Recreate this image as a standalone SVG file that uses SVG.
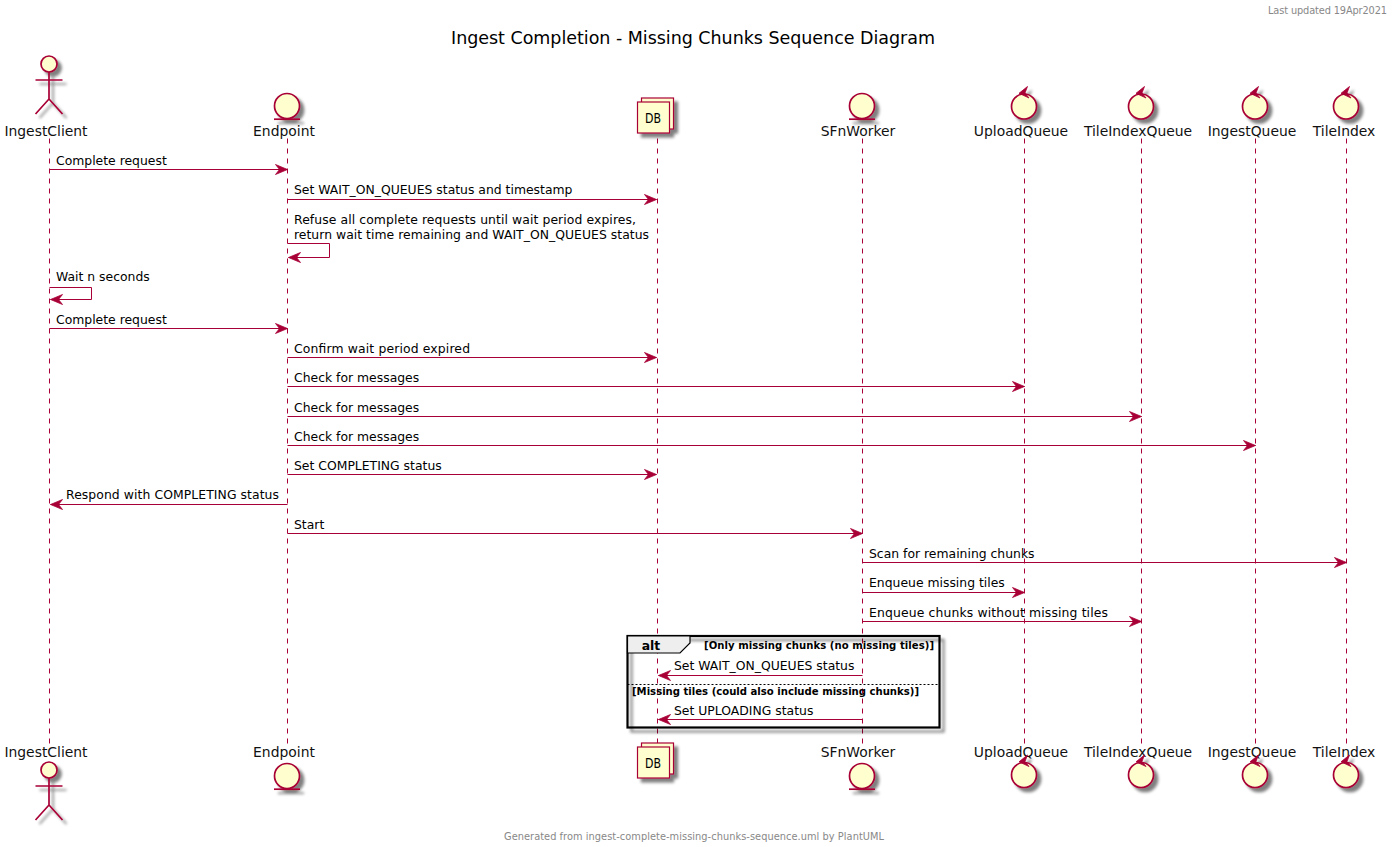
<svg xmlns="http://www.w3.org/2000/svg" width="1393" height="847" viewBox="0 0 1393 847">
<style>
text{font-family:"DejaVu Sans","Liberation Sans",sans-serif;fill:#000}
.lbl{font-size:12.4px}
.name{font-size:13.9px;text-anchor:middle;fill:#111}
.life{stroke:#A80036;stroke-width:1;stroke-dasharray:5 5;fill:none}
.msg{stroke:#A80036;stroke-width:1;fill:none}
.head{fill:#A80036;stroke:#A80036;stroke-width:.8}
.shape{fill:#FEFECE;stroke:#A80036;stroke-width:1.7}
.bar{stroke:#A80036;stroke-width:1.7;fill:none}
.note{font-size:9.8px;fill:#888}
.cond{font-size:10.1px;font-weight:bold}
</style>
<defs>
<filter id="sh" x="-30%" y="-30%" width="170%" height="170%"><feGaussianBlur in="SourceAlpha" stdDeviation="1.8"/><feOffset dx="3.5" dy="3.5"/><feComponentTransfer><feFuncA type="linear" slope="0.5"/></feComponentTransfer><feMerge><feMergeNode/><feMergeNode in="SourceGraphic"/></feMerge></filter>
<marker id="arr" markerUnits="userSpaceOnUse" markerWidth="14" markerHeight="12" refX="12" refY="5" orient="auto-start-reverse" overflow="visible"><path class="head" d="M0 0L12 5L0 10L4 5Z"/></marker>
<g id="actor"><g filter="url(#sh)"><circle class="shape" cx="0" cy="0" r="8"/><path class="bar" d="M0 8V35M-13.500 16H13.500M0 35L-13.500 50M0 35L13.500 50"/></g></g>
<g id="entity"><g filter="url(#sh)"><circle class="shape" cx="0" cy="0" r="12.500"/><path class="bar" d="M-13 13.200H13"/></g></g>
<g id="control"><g filter="url(#sh)"><circle class="shape" cx="0" cy="0" r="12.500"/><path class="head" d="M3.500 -20L-5 -13.200L5 -8.500L1 -13.500Z"/></g></g>
<g id="coll"><g filter="url(#sh)"><rect class="shape" x="4" y="-4" width="32" height="31" style="stroke-width:1.200"/><rect class="shape" x="0" y="0" width="32" height="31" style="stroke-width:1.200"/></g></g>
</defs>
<rect width="1393" height="847" fill="#fff"/>
<text x="1387" y="14" class="note" text-anchor="end" textLength="119">Last updated 19Apr2021</text>
<text x="451" y="44" font-size="17.500" fill="#000" textLength="484">Ingest Completion - Missing Chunks Sequence Diagram</text>
<text x="504" y="840" class="note" textLength="380">Generated from ingest-complete-missing-chunks-sequence.uml by PlantUML</text>

<g id="lifelines" transform="translate(.5 .5)">
<path class="life" d="M49 138V745M287 138V745M657 138V745M862 138V745M1024 138V745M1141 138V745M1255 138V745M1346 138V745"/>
</g>

<g id="alt-frame">
<rect x="627.500" y="636" width="312" height="91.500" fill="#fff" fill-opacity="0" stroke="#000" stroke-width="2.200" filter="url(#sh)"/>
<path d="M627.500 636H690V643L680 653H627.500Z" fill="#eee" stroke="#000" stroke-width="1.200"/>
<text x="651" y="650" font-size="12.400" font-weight="bold" text-anchor="middle">alt</text>
<text x="704" y="649" class="cond" textLength="230">[Only missing chunks (no missing tiles)]</text>
<path d="M627.500 684.500H939.500" stroke="#000" stroke-width="1" stroke-dasharray="2 2"/>
<text x="632" y="695" class="cond" textLength="287">[Missing tiles (could also include missing chunks)]</text>
</g>

<g id="connectors" transform="translate(.5 .5)">
<path class="msg" marker-end="url(#arr)" d="M49 169H287"/>
<path class="msg" marker-end="url(#arr)" d="M287 199H656"/>
<path class="msg" marker-end="url(#arr)" d="M287 243H329V257H288"/>
<path class="msg" marker-end="url(#arr)" d="M49 287H91V299H50"/>
<path class="msg" marker-end="url(#arr)" d="M49 328H287"/>
<path class="msg" marker-end="url(#arr)" d="M287 357H656"/>
<path class="msg" marker-end="url(#arr)" d="M287 386H1024"/>
<path class="msg" marker-end="url(#arr)" d="M287 416H1141"/>
<path class="msg" marker-end="url(#arr)" d="M287 445H1255"/>
<path class="msg" marker-end="url(#arr)" d="M287 474H656"/>
<path class="msg" marker-end="url(#arr)" d="M287 504H50"/>
<path class="msg" marker-end="url(#arr)" d="M287 533H862"/>
<path class="msg" marker-end="url(#arr)" d="M862 562H1346"/>
<path class="msg" marker-end="url(#arr)" d="M862 592H1024"/>
<path class="msg" marker-end="url(#arr)" d="M862 621H1141"/>
<path class="msg" marker-end="url(#arr)" d="M862 675H658"/>
<path class="msg" marker-end="url(#arr)" d="M862 719H658"/>
</g>

<g id="labels" class="lbl">
<text class="lbl" x="56" y="165">Complete request</text>
<text class="lbl" x="294" y="194">Set WAIT_ON_QUEUES status and timestamp</text>
<text class="lbl" x="294" y="224" textLength="342">Refuse all complete requests until wait period expires,</text>
<text class="lbl" x="294" y="239" textLength="355">return wait time remaining and WAIT_ON_QUEUES status</text>
<text class="lbl" x="56" y="281">Wait n seconds</text>
<text class="lbl" x="56" y="324">Complete request</text>
<text class="lbl" x="294" y="353" textLength="176">Confirm wait period expired</text>
<text class="lbl" x="294" y="382">Check for messages</text>
<text class="lbl" x="294" y="412">Check for messages</text>
<text class="lbl" x="294" y="441">Check for messages</text>
<text class="lbl" x="294" y="470">Set COMPLETING status</text>
<text class="lbl" x="66" y="499" textLength="213">Respond with COMPLETING status</text>
<text class="lbl" x="294" y="529">Start</text>
<text class="lbl" x="869" y="558">Scan for remaining chunks</text>
<text class="lbl" x="869" y="587">Enqueue missing tiles</text>
<text class="lbl" x="869" y="617" textLength="239">Enqueue chunks without missing tiles</text>
<text class="lbl" x="674" y="670">Set WAIT_ON_QUEUES status</text>
<text class="lbl" x="674" y="715">Set UPLOADING status</text>
</g>

<g id="p-IngestClient"><use href="#actor" x="49" y="64"/><text class="name" x="46" y="136">IngestClient</text><use href="#actor" x="49" y="770"/><text class="name" x="46" y="757">IngestClient</text></g>
<g id="p-Endpoint"><use href="#entity" x="287" y="106"/><text class="name" x="284" y="136">Endpoint</text><use href="#entity" x="287" y="776"/><text class="name" x="284" y="757">Endpoint</text></g>
<g id="p-DB"><use href="#coll" x="637.500" y="102"/><text x="653" y="123" font-size="14.200" text-anchor="middle" textLength="16" lengthAdjust="spacingAndGlyphs">DB</text><use href="#coll" x="637.500" y="747"/><text x="653" y="768" font-size="14.200" text-anchor="middle" textLength="16" lengthAdjust="spacingAndGlyphs">DB</text></g>
<g id="p-SFnWorker"><use href="#entity" x="862" y="106"/><text class="name" x="858" y="136">SFnWorker</text><use href="#entity" x="862" y="776"/><text class="name" x="858" y="757">SFnWorker</text></g>
<g id="p-UploadQueue"><text class="name" x="1021" y="136">UploadQueue</text><use href="#control" x="1024" y="106.500"/><text class="name" x="1021" y="757">UploadQueue</text><use href="#control" x="1024" y="775"/></g>
<g id="p-TileIndexQueue"><text class="name" x="1138" y="136">TileIndexQueue</text><use href="#control" x="1141" y="106.500"/><text class="name" x="1138" y="757">TileIndexQueue</text><use href="#control" x="1141" y="775"/></g>
<g id="p-IngestQueue"><text class="name" x="1252" y="136">IngestQueue</text><use href="#control" x="1255" y="106.500"/><text class="name" x="1252" y="757">IngestQueue</text><use href="#control" x="1255" y="775"/></g>
<g id="p-TileIndex"><text class="name" x="1344" y="136">TileIndex</text><use href="#control" x="1346" y="106.500"/><text class="name" x="1344" y="757">TileIndex</text><use href="#control" x="1346" y="775"/></g>
</svg>
